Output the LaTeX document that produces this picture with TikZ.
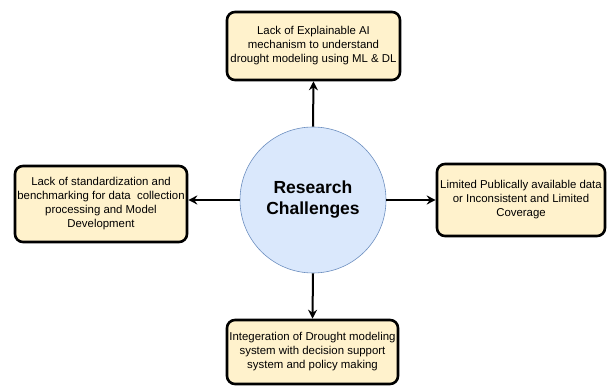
\documentclass[tikz,border=0pt]{standalone}
\usepackage{fontspec}
\setmainfont{Liberation Sans}
\usetikzlibrary{arrows.meta}
\definecolor{boxfill}{HTML}{FFF2CC}
\definecolor{hubfill}{HTML}{DAE8FC}
\definecolor{hubline}{HTML}{6C8EBF}
\begin{document}
\begin{tikzpicture}[x=1pt,y=-1pt,
  challenge/.style={draw=black, line width=2.6pt, fill=boxfill, rounded corners=8pt,
    align=center, inner sep=0pt, font=\fontsize{11.4}{14}\selectfont},
  hub/.style={circle, draw=hubline, line width=0.6pt, fill=hubfill, minimum size=146pt,
    align=center, inner sep=0pt, font=\bfseries\fontsize{17.5}{21}\selectfont},
  link/.style={line width=2pt, -{Stealth[length=9pt,width=9pt,inset=3pt]}}]
\useasboundingbox (0,0) rectangle (611,387);
\node[hub] (hub) at (313,200) {Research\\Challenges};
\node[challenge, minimum width=173pt, minimum height=68pt] (top) at (313.5,46)
  {Lack of Explainable AI\\mechanism to understand\\drought modeling using ML \& DL};
\node[challenge, minimum width=172pt, minimum height=76pt] (left) at (101,204)
  {Lack of standardization and\\benchmarking for data\ \ collection\\processing and Model\\Development};
\node[challenge, minimum width=168pt, minimum height=72pt] (right) at (521,200)
  {Limited Publically available data\\or Inconsistent and Limited\\Coverage};
\node[challenge, minimum width=171pt, minimum height=64pt] (bottom) at (312.5,352)
  {Integeration of Drought modeling\\system with decision support\\system and policy making};
\draw[link] (hub.north) -- (top.south);
\draw[link] (hub.south) -- (bottom.north);
\draw[link] (hub.west) -- (left.east |- hub.west);
\draw[link] (hub.east) -- (right.west |- hub.east);
\end{tikzpicture}
\end{document}
